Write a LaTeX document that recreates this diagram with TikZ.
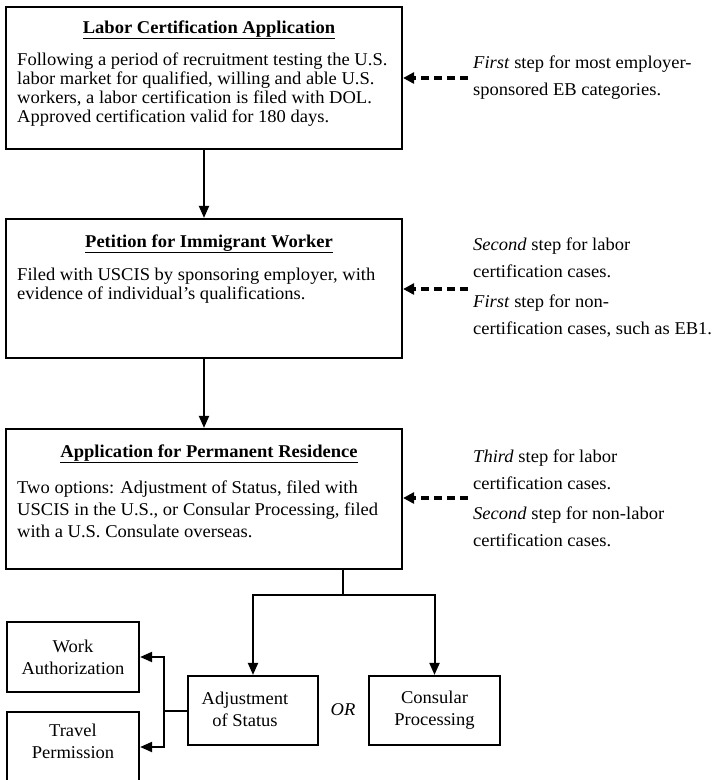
\documentclass[tikz,border=0pt]{standalone}
\usepackage{fontspec}
\setmainfont{Liberation Serif}[FakeStretch=1.03]
\usetikzlibrary{arrows.meta}
\begin{document}
\begin{tikzpicture}[x=1pt,y=-1pt,
  font={\fontsize{18}{19}\selectfont},
  bigbox/.style={draw, line width=2.2pt, minimum width=396pt, inner sep=0pt},
  smallbox/.style={draw, line width=2.2pt, inner sep=0pt, align=center,
    font={\fontsize{18}{22}\selectfont}},
  line/.style={anchor=base west, inner sep=0pt},
  head/.style={anchor=base, inner sep=0pt, font={\fontsize{18}{19}\selectfont\bfseries}},
  conn/.style={line width=2pt},
  arr/.style={conn, -{Triangle[length=12pt,width=10pt]}},
  dasharr/.style={line width=3.2pt, dash pattern=on 8pt off 5pt,
    -{Triangle[length=11pt,width=11pt]}},
]
\useasboundingbox (0,0) rectangle (717,780);
\clip (0,0) rectangle (717,780);

% --- main boxes
\node[bigbox, minimum height=142pt] (box1) at (204,78) {};
\node[bigbox, minimum height=139pt] (box2) at (204,288.5) {};
\node[bigbox, minimum height=140pt] (box3) at (204,499) {};

% box 1 text
\node[head] (h1) at (209,33) {\underline{Labor Certification Application}};
\node[line] (b1a) at (17,65) {Following a period of recruitment testing the U.S.};
\node[line] (b1b) at (17,84) {labor market for qualified, willing and able U.S.};
\node[line] (b1c) at (17,103) {workers, a labor certification is filed with DOL.};
\node[line] (b1d) at (17,122) {Approved certification valid for 180 days.};

% box 2 text
\node[head] (h2) at (209,247) {\underline{Petition for Immigrant Worker}};
\node[line] (b2a) at (17,280) {Filed with USCIS by sponsoring employer, with};
\node[line] (b2b) at (17,299) {evidence of individual’s qualifications.};

% box 3 text
\node[head] (h3) at (209,457) {\underline{Application for Permanent Residence}};
\node[line] (b3a) at (17,493) {Two options: Adjustment of Status, filed with};
\node[line] (b3b) at (17,515) {USCIS in the U.S., or Consular Processing, filed};
\node[line] (b3c) at (17,537) {with a U.S. Consulate overseas.};

% right-hand notes
\node[line] (r1a) at (473,68) {\textit{First} step for most employer-};
\node[line] (r1b) at (473,95) {sponsored EB categories.};
\node[line] (r2a) at (473,250) {\textit{Second} step for labor};
\node[line] (r2b) at (473,277) {certification cases.};
\node[line] (r2c) at (473,307) {\textit{First} step for non-};
\node[line] (r2d) at (473,334) {certification cases, such as EB1.};
\node[line] (r3a) at (473,462) {\textit{Third} step for labor};
\node[line] (r3b) at (473,489) {certification cases.};
\node[line] (r3c) at (473,519) {\textit{Second} step for non-labor};
\node[line] (r3d) at (473,546) {certification cases.};

% dashed arrows
\coordinate (d1) at (468,78);
\coordinate (d2) at (468,289);
\coordinate (d3) at (468,498);
\draw[dasharr] (d1) -- (box1.east |- d1);
\draw[dasharr] (d2) -- (box2.east |- d2);
\draw[dasharr] (d3) -- (box3.east |- d3);

% main flow arrows
\draw[arr] (box1.south) -- (box2.north);
\draw[arr] (box2.south) -- (box3.north);

% lower boxes
\node[smallbox, minimum width=130pt, minimum height=69pt] (adj) at (253,710.5) {};
\node[anchor=center, align=center, inner sep=0pt, font={\fontsize{18}{22}\selectfont}] (adjt) at (245,709) {Adjustment\\of Status};
\node[smallbox, minimum width=131pt, minimum height=69pt] (cons) at (434.5,710.5) {Consular\\Processing};
\node[smallbox, minimum width=132pt, minimum height=70pt] (work) at (73,657) {Work\\Authorization};
\node[smallbox, minimum width=132pt, minimum height=70pt] (trav) at (73,747) {};
\node[anchor=center, align=center, inner sep=0pt, font={\fontsize{18}{22}\selectfont}] (travt) at (73,741.5) {Travel\\Permission};
\node[inner sep=0pt] (or) at (343,710) {\textit{OR}};

% split from box 3
\coordinate (split) at (343,595);
\draw[conn] (box3.south -| split) -- (split);
\draw[arr] (split) -| (adj.north);
\draw[arr] (split) -| (cons.north);

% fork from adjustment of status
\coordinate (fork) at (164,710.5);
\draw[conn] (adj.west) -- (fork);
\draw[arr] (fork) |- (work.east);
\draw[arr] (fork) |- (trav.east);
\end{tikzpicture}
\end{document}
